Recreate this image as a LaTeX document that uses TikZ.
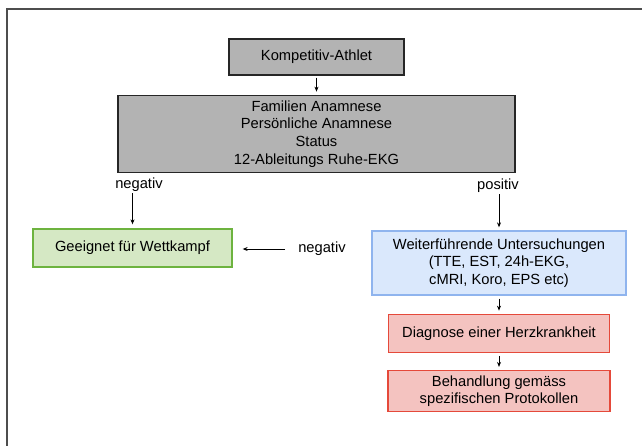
\documentclass[tikz,border=0pt]{standalone}
\usepackage{fontspec}
\setmainfont{Liberation Sans}
\usepackage{tikz}
\usetikzlibrary{arrows.meta, positioning, calc}
\definecolor{ekggray}{RGB}{179,179,179}
\definecolor{ekgdark}{RGB}{38,38,38}
\definecolor{ekgframe}{RGB}{77,77,77}
\definecolor{ekggreen}{RGB}{109,179,63}
\definecolor{ekglightgreen}{RGB}{213,232,196}
\definecolor{ekgblue}{RGB}{143,180,238}
\definecolor{ekglightblue}{RGB}{218,232,252}
\definecolor{ekgred}{RGB}{229,73,58}
\definecolor{ekglightred}{RGB}{244,195,192}
\tikzset{
  %% ---- boxes ----
  graybox/.style  = {rectangle, draw=ekgdark, line width=1.3pt,
                     fill=ekggray, align=center, inner sep=2pt},
  greenbox/.style = {rectangle, draw=ekggreen, line width=1.3pt,
                     fill=ekglightgreen, align=center, inner sep=2pt},
  bluebox/.style  = {rectangle, draw=ekgblue, line width=1.3pt,
                     fill=ekglightblue, align=center, inner sep=2pt},
  redbox/.style   = {rectangle, draw=ekgred, line width=1.3pt,
                     fill=ekglightred, align=center, inner sep=2pt},
  result/.style   = {inner sep=1pt},
  %% ---- arrows ----
  arrow/.style    = {-{Stealth[length=5pt,width=4pt]}, line width=0.9pt, color=black},
}

\begin{document}
\begin{tikzpicture}[x=1pt, y=1pt,
    font=\fontsize{14.7}{17.6}\selectfont]

  \useasboundingbox (0,0) rectangle (642,-445);
  \draw[ekgframe, line width=2pt] (7,-446) -- (7,-9) -- (643,-9);

  %% ---- screening ----
  \node[graybox, minimum width=175pt, minimum height=36pt] (athlet)
    at (316.5,-57) {Kompetitiv-Athlet};
  \node[graybox, minimum width=397pt, minimum height=77pt,
        below=19pt of athlet] (anamnese)
    {Familien Anamnese\\
     Persönliche Anamnese\\
     Status\\
     12-Ableitungs Ruhe-EKG};

  \node[result] (neg1) at (139,-185) {negativ};
  \node[result] (pos) at (498,-186) {positiv};

  %% ---- outcomes ----
  \node[greenbox, minimum width=199pt, minimum height=38pt] (geeignet)
    at (132.5,-248) {Geeignet für Wettkampf};
  \node[bluebox, minimum width=254pt, minimum height=64pt] (weiter)
    at (499,-263)
    {Weiterführende Untersuchungen\\
     (TTE, EST, 24h-EKG,\\
     cMRI, Koro, EPS etc)};
  \node[result] (neg2) at (322,-249) {negativ};
  \node[redbox, minimum width=221pt, minimum height=38pt,
        below=18pt of weiter] (diagnose) {Diagnose einer Herzkrankheit};
  \node[redbox, minimum width=222pt, minimum height=41pt,
        below=17pt of diagnose] (behandlung)
    {Behandlung gemäss\\
     spezifischen Protokollen};

  %% ---- connectors ----
  \draw[arrow, shorten >=3pt, shorten <=2pt] (athlet) -- (anamnese);
  \draw[arrow, shorten >=4pt] (neg1.south -| geeignet.north) -- (geeignet.north);
  \draw[arrow, shorten >=3pt] (pos.south -| weiter.north) -- (weiter.north);
  \draw[arrow, shorten >=10pt, shorten <=12pt] (neg2.west) -- (neg2.west -| geeignet.east);
  \draw[arrow, shorten >=3pt, shorten <=3pt] (weiter) -- (diagnose);
  \draw[arrow, shorten >=3pt, shorten <=3pt] (diagnose) -- (behandlung);

\end{tikzpicture}
\end{document}
